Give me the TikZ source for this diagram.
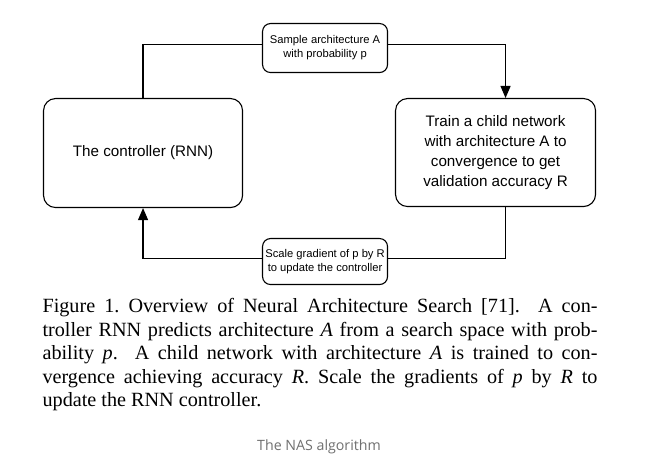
\documentclass[tikz,border=0pt]{standalone}
\usepackage{fontspec}
\setmainfont{Liberation Serif}
\setsansfont{Liberation Sans}
\newfontfamily\nasfont{Open Sans}
\usetikzlibrary{arrows.meta}
\definecolor{nasgray}{HTML}{707070}
\begin{document}
\begin{tikzpicture}[x=0.5pt,y=-0.5pt,
  line width=0.55pt,
  bigbox/.style={draw, rounded corners=6pt, inner sep=0pt, anchor=north west, align=center,
    font=\sffamily\fontsize{7.6pt}{10pt}\selectfont},
  lblbox/.style={draw, rounded corners=4pt, inner sep=0pt, anchor=north west, align=center,
    font=\sffamily\fontsize{5.6pt}{7pt}\selectfont},
  capline/.style={anchor=base west, inner sep=0pt, font=\rmfamily\fontsize{10.1pt}{12pt}\selectfont},
  arr/.style={-{Triangle[width=5pt,length=6pt]}},
]
\fill[white] (0,0) rectangle (650,464);
\useasboundingbox (0,0) rectangle (650,464);

\node[bigbox, minimum width=99.5pt, minimum height=54.5pt] (ctrl) at (43,98) {The controller (RNN)};
\node[bigbox, minimum width=100pt, minimum height=54pt] (train) at (395,98)
  {Train a child network\\with architecture A to\\convergence to get\\validation accuracy R};
\node[lblbox, minimum width=62.5pt, minimum height=24.5pt] (sample) at (262,23)
  {Sample architecture A\\with probability p};
\node[lblbox, minimum width=62.5pt, minimum height=23pt] (scale) at (262,238)
  {Scale gradient of p by R\\to update the controller};

\draw (ctrl.north) |- ([yshift=1.75pt]sample.west);
\draw[arr] ([yshift=1.75pt]sample.east) -| ([xshift=5pt]train.north);
\draw ([xshift=5pt]train.south) |- ([yshift=1.5pt]scale.east);
\draw[arr] ([yshift=1.5pt]scale.west) -| (ctrl.south);

\node[capline] (c1) at (42,313) {\makebox[277.5pt][s]{Figure 1.\ Overview of Neural Architecture Search [71].\ \ A con-}};
\node[capline] (c2) at (42,336.7) {\makebox[277.5pt][s]{troller RNN predicts architecture \textit{A} from a search space with prob-}};
\node[capline] (c3) at (42,360) {\makebox[277.5pt][s]{ability \textit{p}.\ \ A child network with architecture \textit{A} is trained to con-}};
\node[capline] (c4) at (42,383.5) {\makebox[277.5pt][s]{vergence achieving accuracy \textit{R}.\ Scale the gradients of \textit{p} by \textit{R} to}};
\node[capline] (c5) at (42,407) {update the RNN controller.};

\node[anchor=base, inner sep=0pt, text=nasgray, font=\nasfont\fontsize{7.1pt}{9pt}\selectfont] (nas) at (319,451) {The NAS algorithm};
\end{tikzpicture}
\end{document}
